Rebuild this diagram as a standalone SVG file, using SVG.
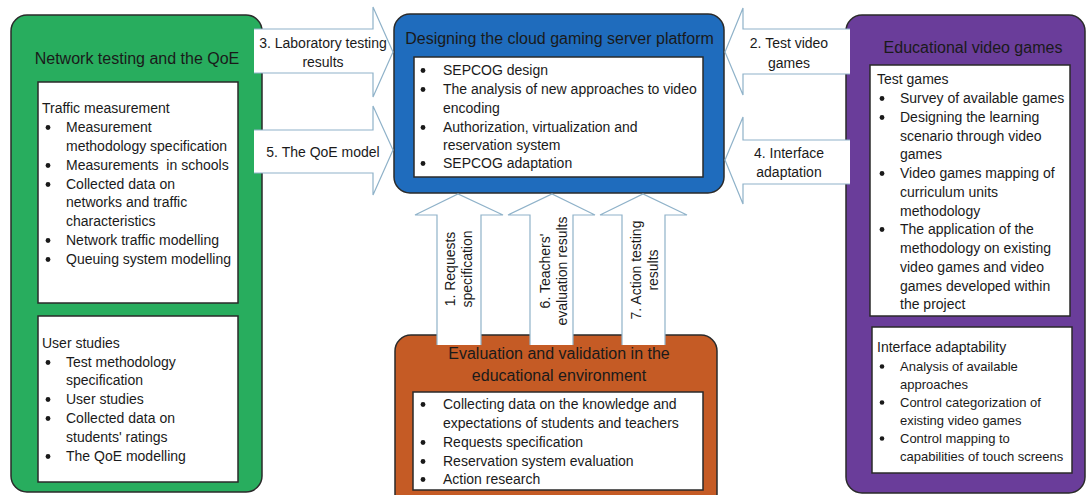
<svg xmlns="http://www.w3.org/2000/svg" width="1089" height="495" viewBox="0 0 1089 495">
<style>
text { font-family: "Liberation Sans", Arial, sans-serif; fill: #1a1a1a; }
.title { font-size: 16px; }
.body { font-size: 14px; }
.small { font-size: 13px; }
.mid { text-anchor: middle; }
.outer { stroke: #2a2a2a; stroke-width: 1.5; }
.inner { fill: #ffffff; stroke: #2a2a2a; stroke-width: 1.5; }
.afill { fill: #ffffff; stroke: none; }
.aline { fill: none; stroke: #8fb2c9; stroke-width: 1.2; }
.dot { fill: #1a1a1a; }
</style>
<rect width="1089" height="495" fill="#ffffff"/>

<g id="node-network">
  <rect class="outer" x="11" y="15" width="251" height="477" rx="16" fill="#28ad5e"/>
  <text class="title mid" x="137" y="64">Network testing and the QoE</text>
  <rect class="inner" x="38" y="82" width="200" height="221"/>
  <text class="body" x="42" y="113">Traffic measurement</text>
  <circle class="dot" cx="48" cy="127.5" r="2.4"/>
  <text class="body" x="66" y="132">Measurement</text>
  <text class="body" x="66" y="151">methodology specification</text>
  <circle class="dot" cx="48" cy="165.5" r="2.4"/>
  <text class="body" x="66" y="170" xml:space="preserve">Measurements  in schools</text>
  <circle class="dot" cx="48" cy="184.5" r="2.4"/>
  <text class="body" x="66" y="189">Collected data on</text>
  <text class="body" x="66" y="207">networks and traffic</text>
  <text class="body" x="66" y="226">characteristics</text>
  <circle class="dot" cx="48" cy="240.5" r="2.4"/>
  <text class="body" x="66" y="245">Network traffic modelling</text>
  <circle class="dot" cx="48" cy="259.5" r="2.4"/>
  <text class="body" x="66" y="264">Queuing system modelling</text>
  <rect class="inner" x="38" y="316" width="200" height="166"/>
  <text class="body" x="42" y="348">User studies</text>
  <circle class="dot" cx="48" cy="362.5" r="2.4"/>
  <text class="body" x="66" y="367">Test methodology</text>
  <text class="body" x="66" y="385">specification</text>
  <circle class="dot" cx="48" cy="399.5" r="2.4"/>
  <text class="body" x="66" y="404">User studies</text>
  <circle class="dot" cx="48" cy="418.5" r="2.4"/>
  <text class="body" x="66" y="423">Collected data on</text>
  <text class="body" x="66" y="442">students' ratings</text>
  <circle class="dot" cx="48" cy="456.5" r="2.4"/>
  <text class="body" x="66" y="461">The QoE modelling</text>
</g>

<g id="node-platform">
  <rect class="outer" x="394" y="14" width="330" height="179" rx="16" fill="#1f6cbd"/>
  <text class="title mid" x="559.5" y="44">Designing the cloud gaming server platform</text>
  <rect class="inner" x="414" y="57" width="289" height="120"/>
  <circle class="dot" cx="423" cy="70.5" r="2.4"/>
  <text class="body" x="443" y="75">SEPCOG design</text>
  <circle class="dot" cx="423" cy="89.5" r="2.4"/>
  <text class="body" x="443" y="94">The analysis of new approaches to video</text>
  <text class="body" x="443" y="113">encoding</text>
  <circle class="dot" cx="423" cy="127.5" r="2.4"/>
  <text class="body" x="443" y="132">Authorization, virtualization and</text>
  <text class="body" x="443" y="150">reservation system</text>
  <circle class="dot" cx="423" cy="163.5" r="2.4"/>
  <text class="body" x="443" y="168">SEPCOG adaptation</text>
</g>

<g id="node-games">
  <rect class="outer" x="846" y="15" width="239" height="478" rx="16" fill="#6a3d9a"/>
  <text class="title mid" x="973" y="53">Educational video games</text>
  <rect class="inner" x="870" y="65" width="200" height="251"/>
  <text class="body" x="877" y="84">Test games</text>
  <circle class="dot" cx="882" cy="98.5" r="2.4"/>
  <text class="body" x="900" y="103">Survey of available games</text>
  <circle class="dot" cx="882" cy="117.5" r="2.4"/>
  <text class="body" x="900" y="122">Designing the learning</text>
  <text class="body" x="900" y="141">scenario through video</text>
  <text class="body" x="900" y="159">games</text>
  <circle class="dot" cx="882" cy="173.5" r="2.4"/>
  <text class="body" x="900" y="178">Video games mapping of</text>
  <text class="body" x="900" y="197">curriculum units</text>
  <text class="body" x="900" y="216">methodology</text>
  <circle class="dot" cx="882" cy="229.5" r="2.4"/>
  <text class="body" x="900" y="234">The application of the</text>
  <text class="body" x="900" y="253">methodology on existing</text>
  <text class="body" x="900" y="272">video games and video</text>
  <text class="body" x="900" y="291">games developed within</text>
  <text class="body" x="900" y="309">the project</text>
  <rect class="inner" x="872" y="327" width="200" height="146"/>
  <text class="body" x="877" y="352">Interface adaptability</text>
  <circle class="dot" cx="882" cy="366.5" r="2.3"/>
  <text class="small" x="900" y="371">Analysis of available</text>
  <text class="small" x="900" y="389">approaches</text>
  <circle class="dot" cx="882" cy="402.5" r="2.3"/>
  <text class="small" x="900" y="407">Control categorization of</text>
  <text class="small" x="900" y="425">existing video games</text>
  <circle class="dot" cx="882" cy="438.5" r="2.3"/>
  <text class="small" x="900" y="443">Control mapping to</text>
  <text class="small" x="900" y="461">capabilities of touch screens</text>
</g>

<g id="node-evaluation">
  <rect class="outer" x="395" y="335" width="322" height="175" rx="16" fill="#c55b25"/>
  <text class="title mid" x="559" y="359">Evaluation and validation in the</text>
  <text class="title mid" x="559" y="381">educational environment</text>
  <rect class="inner" x="413" y="392" width="290" height="98"/>
  <circle class="dot" cx="423" cy="404.5" r="2.4"/>
  <text class="body" x="443" y="409">Collecting data on the knowledge and</text>
  <text class="body" x="443" y="428">expectations of students and teachers</text>
  <circle class="dot" cx="423" cy="442.5" r="2.4"/>
  <text class="body" x="443" y="447">Requests specification</text>
  <circle class="dot" cx="423" cy="461.5" r="2.4"/>
  <text class="body" x="443" y="466">Reservation system evaluation</text>
  <circle class="dot" cx="423" cy="479.5" r="2.4"/>
  <text class="body" x="443" y="484">Action research</text>
</g>

<g id="connectors">
  <!-- 3. Laboratory testing results -->
  <path class="afill" d="M254,29 H373 V7 L393,52 L373,97 V73 H254 Z"/>
  <path class="aline" d="M254,29 H373 V7 L393,52 L373,97 V73 H254"/>
  <text class="body mid" x="323" y="48">3. Laboratory testing</text>
  <text class="body mid" x="323" y="67">results</text>
  <!-- 5. The QoE model -->
  <path class="afill" d="M254,130 H373 V106 L393,150 L373,195 V173 H254 Z"/>
  <path class="aline" d="M254,130 H373 V106 L393,150 L373,195 V173 H254"/>
  <text class="body mid" x="323" y="157">5. The QoE model</text>
  <!-- 2. Test video games -->
  <path class="afill" d="M850,29 H743 V8 L725,52 L743,95 V74 H850 Z"/>
  <path class="aline" d="M850,29 H743 V8 L725,52 L743,95 V74 H850"/>
  <text class="body mid" x="789" y="48">2. Test video</text>
  <text class="body mid" x="789" y="68">games</text>
  <!-- 4. Interface adaptation -->
  <path class="afill" d="M850,140 H743 V117 L725,160 L743,204 V184 H850 Z"/>
  <path class="aline" d="M850,140 H743 V117 L725,160 L743,204 V184 H850"/>
  <text class="body mid" x="789" y="158">4. Interface</text>
  <text class="body mid" x="789" y="177">adaptation</text>
  <!-- 1. Requests specification -->
  <path class="afill" d="M437,345 V215 H415 L458,194 L503,215 H481 V345 Z"/>
  <path class="aline" d="M437,345 V215 H415 L458,194 L503,215 H481 V345"/>
  <text class="body mid" transform="translate(455,269) rotate(-90)">1. Requests</text>
  <text class="body mid" transform="translate(472,269) rotate(-90)">specification</text>
  <!-- 6. Teachers' evaluation results -->
  <path class="afill" d="M530,345 V215 H508 L552,194 L595,215 H573 V345 Z"/>
  <path class="aline" d="M530,345 V215 H508 L552,194 L595,215 H573 V345"/>
  <text class="body mid" transform="translate(550,271) rotate(-90)">6. Teachers'</text>
  <text class="body mid" transform="translate(567,271) rotate(-90)">evaluation results</text>
  <!-- 7. Action testing results -->
  <path class="afill" d="M622,345 V215 H600 L643,194 L687,215 H665 V345 Z"/>
  <path class="aline" d="M622,345 V215 H600 L643,194 L687,215 H665 V345"/>
  <text class="body mid" transform="translate(641,270) rotate(-90)">7. Action testing</text>
  <text class="body mid" transform="translate(658,270) rotate(-90)">results</text>
</g>
</svg>
